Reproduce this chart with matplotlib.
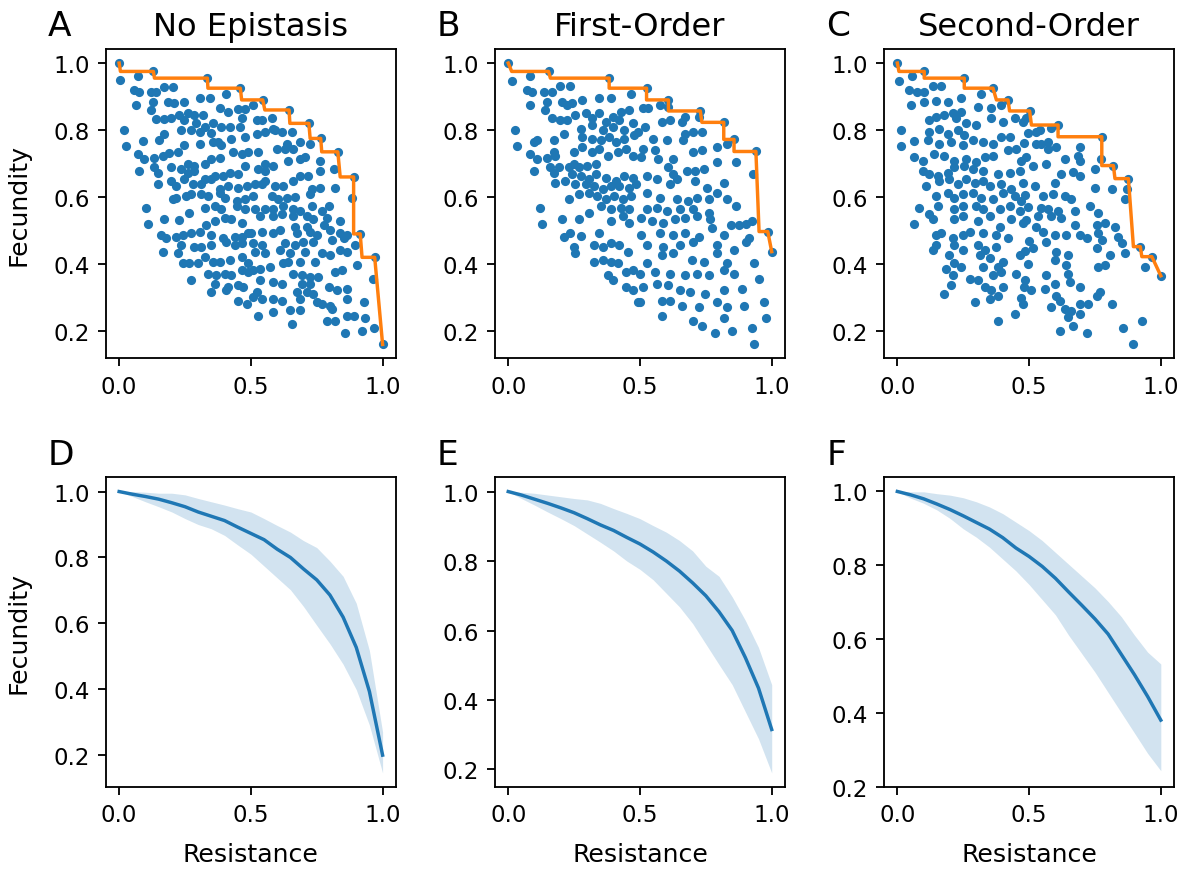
import numpy as np
import matplotlib
matplotlib.use("Agg")
import matplotlib.pyplot as plt

# (resistance, fecundity) of each genotype
pts_none = np.array([
    (0.0, 1.0), (0.005, 0.95), (0.07, 0.96), (0.13, 0.975), (0.17, 0.93), (0.204, 0.93), (0.055, 0.92),
    (0.077, 0.913), (0.12, 0.915), (0.14, 0.915), (0.335, 0.955), (0.407, 0.907), (0.306, 0.897),
    (0.344, 0.897), (0.064, 0.875), (0.127, 0.885), (0.185, 0.885), (0.21, 0.88), (0.248, 0.885),
    (0.121, 0.86), (0.382, 0.865), (0.414, 0.855), (0.452, 0.863), (0.477, 0.863), (0.14, 0.833),
    (0.172, 0.833), (0.197, 0.835), (0.229, 0.845), (0.261, 0.85), (0.286, 0.845), (0.318, 0.845),
    (0.248, 0.83), (0.293, 0.82), (0.325, 0.81), (0.356, 0.82), (0.388, 0.81), (0.42, 0.81), (0.465, 0.835),
    (0.458, 0.81), (0.02, 0.8), (0.236, 0.8), (0.274, 0.8), (0.306, 0.794), (0.35, 0.79), (0.376, 0.764),
    (0.426, 0.774), (0.477, 0.78), (0.026, 0.751), (0.089, 0.766), (0.153, 0.769), (0.172, 0.789),
    (0.248, 0.754), (0.306, 0.759), (0.356, 0.764), (0.388, 0.754), (0.07, 0.729), (0.096, 0.714),
    (0.134, 0.716), (0.166, 0.722), (0.191, 0.732), (0.223, 0.734), (0.261, 0.699), (0.286, 0.694),
    (0.325, 0.699), (0.35, 0.714), (0.382, 0.716), (0.433, 0.734), (0.465, 0.729), (0.49, 0.734),
    (0.077, 0.678), (0.134, 0.689), (0.147, 0.673), (0.197, 0.689), (0.236, 0.684), (0.261, 0.673),
    (0.286, 0.678), (0.325, 0.653), (0.363, 0.663), (0.395, 0.663), (0.42, 0.673), (0.452, 0.668),
    (0.477, 0.694), (0.147, 0.638), (0.197, 0.648), (0.216, 0.633), (0.248, 0.653), (0.28, 0.638),
    (0.312, 0.638), (0.35, 0.653), (0.382, 0.623), (0.414, 0.633), (0.452, 0.628), (0.484, 0.633),
    (0.204, 0.593), (0.216, 0.598), (0.255, 0.603), (0.274, 0.608), (0.312, 0.608), (0.337, 0.603),
    (0.382, 0.613), (0.401, 0.598), (0.446, 0.588), (0.477, 0.593), (0.102, 0.568), (0.325, 0.568),
    (0.363, 0.573), (0.388, 0.563), (0.446, 0.573), (0.477, 0.563), (0.108, 0.519), (0.172, 0.533),
    (0.229, 0.531), (0.267, 0.553), (0.331, 0.517), (0.363, 0.527), (0.401, 0.537), (0.426, 0.533),
    (0.465, 0.522), (0.159, 0.487), (0.178, 0.477), (0.216, 0.482), (0.242, 0.487), (0.274, 0.492),
    (0.306, 0.497), (0.35, 0.487), (0.395, 0.477), (0.439, 0.482), (0.465, 0.482), (0.49, 0.492),
    (0.166, 0.437), (0.223, 0.432), (0.236, 0.457), (0.286, 0.452), (0.312, 0.452), (0.35, 0.457),
    (0.407, 0.467), (0.439, 0.457), (0.465, 0.462), (0.242, 0.404), (0.267, 0.404), (0.299, 0.402),
    (0.325, 0.422), (0.356, 0.407), (0.382, 0.407), (0.42, 0.412), (0.465, 0.422), (0.49, 0.402),
    (0.337, 0.371), (0.369, 0.366), (0.401, 0.371), (0.426, 0.366), (0.465, 0.381), (0.49, 0.376),
    (0.274, 0.351), (0.363, 0.341), (0.414, 0.331), (0.452, 0.336), (0.471, 0.331), (0.35, 0.316),
    (0.407, 0.321), (0.452, 0.289), (0.484, 0.281),
    (0.46, 0.925), (0.545, 0.89), (0.645, 0.86), (0.72, 0.82), (0.765, 0.775), (0.83, 0.735), (0.89, 0.66),
    (0.915, 0.49), (0.97, 0.42), (1.0, 0.16), (0.509, 0.875), (0.522, 0.83), (0.541, 0.83), (0.579, 0.835),
    (0.585, 0.804), (0.522, 0.789), (0.553, 0.794), (0.591, 0.799), (0.617, 0.794), (0.655, 0.794),
    (0.636, 0.759), (0.687, 0.764), (0.725, 0.759), (0.598, 0.744), (0.63, 0.744), (0.661, 0.744),
    (0.706, 0.719), (0.528, 0.734), (0.642, 0.709), (0.687, 0.714), (0.763, 0.709), (0.553, 0.699),
    (0.585, 0.694), (0.528, 0.684), (0.553, 0.678), (0.763, 0.678), (0.814, 0.684), (0.718, 0.663),
    (0.687, 0.663), (0.515, 0.638), (0.541, 0.638), (0.553, 0.648), (0.591, 0.633), (0.623, 0.633),
    (0.661, 0.648), (0.731, 0.623), (0.763, 0.628), (0.82, 0.628), (0.509, 0.603), (0.579, 0.603),
    (0.604, 0.593), (0.636, 0.598), (0.668, 0.6), (0.725, 0.608), (0.885, 0.596), (0.515, 0.563),
    (0.553, 0.563), (0.585, 0.563), (0.623, 0.573), (0.661, 0.563), (0.687, 0.558), (0.731, 0.573),
    (0.795, 0.573), (0.769, 0.558), (0.534, 0.543), (0.585, 0.543), (0.617, 0.548), (0.661, 0.543),
    (0.712, 0.543), (0.737, 0.533), (0.788, 0.538), (0.668, 0.512), (0.712, 0.512), (0.776, 0.517),
    (0.839, 0.527), (0.502, 0.492), (0.541, 0.497), (0.585, 0.492), (0.61, 0.502), (0.674, 0.492),
    (0.725, 0.497), (0.75, 0.487), (0.801, 0.502), (0.839, 0.492), (0.865, 0.487), (0.509, 0.462),
    (0.541, 0.457), (0.63, 0.462), (0.668, 0.457), (0.699, 0.467), (0.737, 0.467), (0.807, 0.472),
    (0.852, 0.477), (0.896, 0.457), (0.515, 0.437), (0.553, 0.432), (0.61, 0.442), (0.648, 0.432),
    (0.706, 0.437), (0.769, 0.432), (0.801, 0.427), (0.839, 0.442), (0.865, 0.437), (0.623, 0.402),
    (0.642, 0.407), (0.687, 0.407), (0.744, 0.407), (0.903, 0.397), (0.509, 0.381), (0.534, 0.385),
    (0.572, 0.391), (0.661, 0.371), (0.693, 0.366), (0.725, 0.361), (0.756, 0.361), (0.82, 0.376),
    (0.845, 0.381), (0.962, 0.356), (0.534, 0.351), (0.585, 0.346), (0.617, 0.341), (0.693, 0.341),
    (0.725, 0.341), (0.795, 0.331), (0.522, 0.316), (0.674, 0.316), (0.712, 0.316), (0.737, 0.311),
    (0.826, 0.321), (0.865, 0.326), (0.509, 0.301), (0.541, 0.296), (0.585, 0.296), (0.617, 0.291),
    (0.687, 0.296), (0.75, 0.286), (0.801, 0.276), (0.865, 0.296), (0.928, 0.286), (0.528, 0.246),
    (0.585, 0.256), (0.648, 0.263), (0.687, 0.263), (0.769, 0.281), (0.807, 0.266), (0.865, 0.246),
    (0.89, 0.246), (0.934, 0.24), (0.655, 0.22), (0.788, 0.23), (0.82, 0.23), (0.858, 0.195),
    (0.922, 0.2), (0.968, 0.21),
])

pts_first = np.array([
    (0.0, 1.0), (0.013, 0.947), (0.083, 0.96), (0.153, 0.975), (0.07, 0.92), (0.089, 0.913), (0.134, 0.913),
    (0.166, 0.913), (0.198, 0.932), (0.236, 0.932), (0.083, 0.875), (0.147, 0.885), (0.14, 0.86),
    (0.204, 0.885), (0.224, 0.875), (0.243, 0.88), (0.281, 0.89), (0.345, 0.897), (0.39, 0.895),
    (0.383, 0.955), (0.466, 0.907), (0.166, 0.835), (0.198, 0.83), (0.224, 0.83), (0.255, 0.845),
    (0.294, 0.85), (0.319, 0.835), (0.345, 0.85), (0.37, 0.825), (0.396, 0.84), (0.428, 0.855),
    (0.46, 0.86), (0.421, 0.83), (0.275, 0.804), (0.319, 0.814), (0.358, 0.8), (0.396, 0.81), (0.44, 0.8),
    (0.473, 0.82), (0.026, 0.8), (0.032, 0.751), (0.096, 0.764), (0.109, 0.769), (0.172, 0.769),
    (0.211, 0.789), (0.281, 0.779), (0.319, 0.774), (0.351, 0.769), (0.383, 0.779), (0.409, 0.764),
    (0.44, 0.774), (0.479, 0.784), (0.083, 0.729), (0.109, 0.714), (0.147, 0.716), (0.172, 0.734),
    (0.179, 0.724), (0.249, 0.734), (0.281, 0.749), (0.319, 0.734), (0.345, 0.744), (0.377, 0.724),
    (0.415, 0.734), (0.447, 0.744), (0.473, 0.724), (0.096, 0.678), (0.16, 0.689), (0.172, 0.673),
    (0.192, 0.689), (0.23, 0.689), (0.249, 0.699), (0.268, 0.689), (0.3, 0.694), (0.332, 0.699),
    (0.243, 0.668), (0.275, 0.663), (0.307, 0.653), (0.332, 0.668), (0.37, 0.658), (0.409, 0.648),
    (0.44, 0.663), (0.473, 0.658), (0.179, 0.643), (0.217, 0.648), (0.255, 0.638), (0.294, 0.638),
    (0.326, 0.633), (0.358, 0.623), (0.39, 0.633), (0.421, 0.633), (0.46, 0.628), (0.485, 0.638),
    (0.23, 0.593), (0.268, 0.608), (0.307, 0.613), (0.338, 0.603), (0.37, 0.593), (0.402, 0.603),
    (0.434, 0.593), (0.466, 0.603), (0.351, 0.573), (0.39, 0.563), (0.428, 0.568), (0.46, 0.563),
    (0.121, 0.568), (0.128, 0.519), (0.204, 0.533), (0.268, 0.533), (0.307, 0.553), (0.39, 0.527),
    (0.434, 0.543), (0.46, 0.522), (0.211, 0.48), (0.236, 0.492), (0.275, 0.484), (0.345, 0.492),
    (0.249, 0.452), (0.326, 0.457), (0.358, 0.452), (0.39, 0.462), (0.421, 0.457), (0.453, 0.437),
    (0.255, 0.432), (0.326, 0.407), (0.358, 0.412), (0.39, 0.407), (0.415, 0.402), (0.447, 0.376),
    (0.473, 0.381), (0.377, 0.366), (0.396, 0.351), (0.447, 0.331), (0.473, 0.321), (0.492, 0.286),
    (0.525, 0.925), (0.608, 0.89), (0.729, 0.857), (0.818, 0.823), (0.857, 0.772), (0.94, 0.736),
    (0.985, 0.497), (1.0, 0.437), (0.512, 0.865), (0.531, 0.865), (0.576, 0.875), (0.605, 0.87),
    (0.582, 0.824), (0.614, 0.83), (0.659, 0.824), (0.671, 0.84), (0.723, 0.84), (0.518, 0.81),
    (0.493, 0.794), (0.55, 0.774), (0.601, 0.769), (0.671, 0.789), (0.703, 0.794), (0.735, 0.794),
    (0.665, 0.769), (0.793, 0.749), (0.831, 0.759), (0.512, 0.744), (0.556, 0.739), (0.703, 0.734),
    (0.735, 0.739), (0.793, 0.704), (0.863, 0.704), (0.505, 0.719), (0.569, 0.714), (0.627, 0.714),
    (0.608, 0.689), (0.627, 0.668), (0.678, 0.678), (0.71, 0.678), (0.742, 0.684), (0.93, 0.668),
    (0.525, 0.663), (0.563, 0.653), (0.614, 0.638), (0.64, 0.653), (0.71, 0.648), (0.754, 0.628),
    (0.818, 0.643), (0.525, 0.613), (0.576, 0.598), (0.64, 0.593), (0.684, 0.588), (0.716, 0.598),
    (0.761, 0.593), (0.793, 0.613), (0.831, 0.593), (0.525, 0.563), (0.563, 0.568), (0.601, 0.558),
    (0.652, 0.563), (0.703, 0.563), (0.761, 0.553), (0.863, 0.573), (0.505, 0.538), (0.544, 0.527),
    (0.588, 0.522), (0.633, 0.533), (0.671, 0.538), (0.716, 0.543), (0.767, 0.533), (0.844, 0.517),
    (0.876, 0.517), (0.901, 0.52), (0.927, 0.527), (0.505, 0.487), (0.576, 0.492), (0.627, 0.487),
    (0.671, 0.492), (0.723, 0.482), (0.774, 0.507), (0.818, 0.487), (0.914, 0.477), (0.525, 0.457),
    (0.588, 0.452), (0.652, 0.457), (0.703, 0.467), (0.793, 0.457), (0.857, 0.442), (0.901, 0.467),
    (0.582, 0.427), (0.627, 0.432), (0.697, 0.412), (0.742, 0.407), (0.793, 0.432), (0.831, 0.402),
    (0.933, 0.402), (0.525, 0.402), (0.499, 0.371), (0.556, 0.376), (0.614, 0.371), (0.671, 0.366),
    (0.716, 0.371), (0.761, 0.366), (0.818, 0.381), (0.857, 0.371), (0.952, 0.356), (0.512, 0.331),
    (0.563, 0.341), (0.608, 0.336), (0.652, 0.321), (0.691, 0.316), (0.748, 0.311), (0.818, 0.321),
    (0.889, 0.326), (0.499, 0.286), (0.582, 0.291), (0.614, 0.291), (0.659, 0.276), (0.723, 0.271),
    (0.793, 0.286), (0.831, 0.271), (0.895, 0.276), (0.972, 0.286), (0.582, 0.245), (0.703, 0.23),
    (0.735, 0.215), (0.818, 0.24), (0.978, 0.24), (0.786, 0.195), (0.85, 0.2), (0.927, 0.21),
    (0.933, 0.16),
])

pts_second = np.array([
    (0.0, 1.0), (0.006, 0.947), (0.057, 0.96), (0.102, 0.975), (0.134, 0.932), (0.165, 0.932), (0.045, 0.92),
    (0.076, 0.913), (0.102, 0.915), (0.242, 0.897), (0.254, 0.955), (0.318, 0.907), (0.051, 0.875),
    (0.102, 0.885), (0.146, 0.887), (0.191, 0.885), (0.306, 0.87), (0.356, 0.865), (0.395, 0.875),
    (0.121, 0.83), (0.146, 0.84), (0.178, 0.845), (0.21, 0.85), (0.242, 0.855), (0.223, 0.835),
    (0.261, 0.82), (0.299, 0.815), (0.356, 0.835), (0.401, 0.825), (0.445, 0.835), (0.477, 0.825),
    (0.121, 0.794), (0.159, 0.804), (0.191, 0.789), (0.229, 0.8), (0.254, 0.784), (0.013, 0.8),
    (0.013, 0.751), (0.064, 0.766), (0.115, 0.769), (0.159, 0.759), (0.204, 0.764), (0.248, 0.754),
    (0.286, 0.769), (0.325, 0.764), (0.363, 0.759), (0.395, 0.779), (0.426, 0.779), (0.452, 0.744),
    (0.064, 0.719), (0.096, 0.709), (0.14, 0.729), (0.178, 0.724), (0.216, 0.709), (0.261, 0.714),
    (0.299, 0.704), (0.331, 0.719), (0.363, 0.724), (0.42, 0.739), (0.471, 0.709), (0.096, 0.678),
    (0.121, 0.668), (0.153, 0.663), (0.191, 0.673), (0.216, 0.689), (0.254, 0.694), (0.286, 0.684),
    (0.325, 0.678), (0.382, 0.668), (0.426, 0.673), (0.465, 0.678), (0.108, 0.633), (0.159, 0.648),
    (0.197, 0.653), (0.229, 0.638), (0.261, 0.653), (0.293, 0.643), (0.325, 0.648), (0.35, 0.633),
    (0.395, 0.638), (0.433, 0.623), (0.477, 0.643), (0.146, 0.603), (0.191, 0.613), (0.216, 0.598),
    (0.248, 0.608), (0.286, 0.613), (0.318, 0.598), (0.363, 0.593), (0.401, 0.613), (0.445, 0.603),
    (0.471, 0.588), (0.083, 0.568), (0.121, 0.548), (0.153, 0.573), (0.216, 0.563), (0.248, 0.573),
    (0.299, 0.573), (0.325, 0.563), (0.388, 0.563), (0.426, 0.573), (0.465, 0.558), (0.064, 0.519),
    (0.134, 0.533), (0.216, 0.533), (0.248, 0.543), (0.306, 0.527), (0.35, 0.543), (0.388, 0.512),
    (0.433, 0.533), (0.477, 0.522), (0.146, 0.487), (0.166, 0.492), (0.21, 0.477), (0.248, 0.487),
    (0.274, 0.497), (0.325, 0.492), (0.376, 0.487), (0.42, 0.477), (0.134, 0.442), (0.146, 0.457),
    (0.216, 0.457), (0.248, 0.442), (0.306, 0.457), (0.331, 0.442), (0.376, 0.452), (0.465, 0.427),
    (0.197, 0.427), (0.312, 0.427), (0.35, 0.417), (0.401, 0.407), (0.216, 0.402), (0.242, 0.391),
    (0.325, 0.391), (0.382, 0.391), (0.185, 0.386), (0.21, 0.366), (0.274, 0.356), (0.306, 0.351),
    (0.363, 0.366), (0.395, 0.376), (0.452, 0.371), (0.484, 0.351), (0.204, 0.336), (0.331, 0.331),
    (0.356, 0.321), (0.401, 0.331), (0.178, 0.311), (0.293, 0.286), (0.35, 0.296), (0.382, 0.306),
    (0.477, 0.281), (0.445, 0.25), (0.382, 0.23), (0.363, 0.925), (0.42, 0.89), (0.502, 0.857),
    (0.49, 0.835), (0.495, 0.79), (0.48, 0.76), (0.49, 0.72), (0.485, 0.605), (0.495, 0.57), (0.49, 0.53),
    (0.5, 0.47), (0.485, 0.44), (0.495, 0.4), (0.48, 0.33), (0.47, 0.3),
    (0.61, 0.815), (0.776, 0.78), (0.82, 0.694), (0.877, 0.655), (0.922, 0.452), (0.966, 0.422),
    (1.0, 0.365), (0.528, 0.794), (0.541, 0.8), (0.585, 0.806), (0.528, 0.759), (0.547, 0.759),
    (0.572, 0.764), (0.572, 0.744), (0.604, 0.749), (0.693, 0.749), (0.636, 0.714), (0.687, 0.724),
    (0.693, 0.709), (0.515, 0.694), (0.566, 0.699), (0.668, 0.674), (0.693, 0.663), (0.75, 0.684),
    (0.774, 0.714), (0.522, 0.633), (0.598, 0.643), (0.623, 0.668), (0.75, 0.628), (0.814, 0.623),
    (0.87, 0.623), (0.864, 0.593), (0.553, 0.603), (0.591, 0.608), (0.636, 0.603), (0.661, 0.593),
    (0.547, 0.568), (0.572, 0.563), (0.61, 0.558), (0.674, 0.558), (0.731, 0.573), (0.763, 0.553),
    (0.534, 0.543), (0.585, 0.543), (0.623, 0.538), (0.674, 0.517), (0.756, 0.517), (0.788, 0.522),
    (0.826, 0.512), (0.528, 0.512), (0.553, 0.497), (0.598, 0.487), (0.642, 0.487), (0.693, 0.487),
    (0.718, 0.477), (0.763, 0.492), (0.776, 0.472), (0.839, 0.482), (0.852, 0.462), (0.515, 0.447),
    (0.566, 0.467), (0.604, 0.437), (0.648, 0.427), (0.756, 0.447), (0.807, 0.427), (0.865, 0.432),
    (0.941, 0.392), (0.598, 0.412), (0.642, 0.397), (0.566, 0.366), (0.598, 0.341), (0.648, 0.371),
    (0.655, 0.346), (0.693, 0.331), (0.763, 0.392), (0.788, 0.397), (0.769, 0.316), (0.756, 0.306),
    (0.509, 0.321), (0.56, 0.326), (0.604, 0.306), (0.617, 0.291), (0.585, 0.271), (0.636, 0.266),
    (0.661, 0.261), (0.693, 0.281), (0.725, 0.281), (0.693, 0.251), (0.648, 0.241), (0.668, 0.215),
    (0.718, 0.195), (0.617, 0.2), (0.814, 0.281), (0.858, 0.21), (0.928, 0.23), (0.896, 0.16),
])

# bottom row: mean front with spread band
resistance = np.linspace(0, 1, 21)
mean_none = [1.0, 0.992, 0.985, 0.977, 0.966, 0.954, 0.938, 0.925, 0.912, 0.892, 0.873,
             0.854, 0.825, 0.8, 0.765, 0.732, 0.686, 0.619, 0.527, 0.393, 0.2]
lo_none = [1.0, 0.985, 0.969, 0.954, 0.938, 0.918, 0.9, 0.887, 0.867, 0.838, 0.81,
           0.774, 0.738, 0.702, 0.651, 0.594, 0.538, 0.476, 0.399, 0.291, 0.146]
hi_none = [1.0, 1.0, 0.998, 0.995, 0.995, 0.99, 0.979, 0.969, 0.959, 0.948, 0.938,
           0.918, 0.897, 0.877, 0.851, 0.83, 0.789, 0.743, 0.661, 0.517, 0.27]

mean_first = [1.0, 0.99, 0.978, 0.966, 0.953, 0.939, 0.922, 0.904, 0.888, 0.868, 0.849,
              0.826, 0.8, 0.771, 0.737, 0.7, 0.654, 0.6, 0.522, 0.434, 0.315]
lo_first = [1.0, 0.98, 0.961, 0.941, 0.922, 0.902, 0.878, 0.854, 0.829, 0.8, 0.776,
            0.746, 0.707, 0.668, 0.62, 0.561, 0.502, 0.444, 0.366, 0.288, 0.19]
hi_first = [1.0, 0.998, 0.995, 0.99, 0.985, 0.98, 0.976, 0.966, 0.951, 0.937, 0.922,
            0.902, 0.883, 0.859, 0.829, 0.785, 0.756, 0.697, 0.629, 0.551, 0.444]

mean_second = [1.0, 0.991, 0.98, 0.966, 0.951, 0.934, 0.916, 0.898, 0.875, 0.847, 0.824,
               0.797, 0.765, 0.728, 0.692, 0.655, 0.614, 0.559, 0.504, 0.445, 0.381]
lo_second = [1.0, 0.982, 0.968, 0.95, 0.927, 0.899, 0.876, 0.849, 0.817, 0.785, 0.748,
             0.707, 0.666, 0.611, 0.561, 0.511, 0.456, 0.401, 0.346, 0.291, 0.244]
hi_second = [1.0, 0.999, 0.999, 0.994, 0.99, 0.983, 0.972, 0.958, 0.94, 0.917, 0.894,
             0.867, 0.835, 0.803, 0.771, 0.739, 0.702, 0.661, 0.611, 0.565, 0.533]

titles = ["No Epistasis", "First-Order", "Second-Order"]
letters = [["A", "B", "C"], ["D", "E", "F"]]
scatter_sets = [pts_none, pts_first, pts_second]
band_sets = [(mean_none, lo_none, hi_none),
             (mean_first, lo_first, hi_first),
             (mean_second, lo_second, hi_second)]


def pareto_front(pts):
    # best fecundity reachable at or above each resistance
    order = np.argsort(pts[:, 0], kind="stable")
    xs = pts[order, 0]
    ys = pts[order, 1]
    fy = np.maximum.accumulate(ys[::-1])[::-1]
    return xs, fy


dpi = 165
fig, axes = plt.subplots(2, 3, figsize=(1180 / dpi, 871 / dpi), dpi=dpi)
fig.subplots_adjust(left=0.0898, right=0.9949, top=0.9426, bottom=0.0953,
                    wspace=0.3426, hspace=0.3845)

for j in range(3):
    ax = axes[0, j]
    pts = scatter_sets[j]
    ax.plot(pts[:, 0], pts[:, 1], '.', color='C0')
    fx, fy = pareto_front(pts)
    ax.plot(fx, fy, color='C1')
    ax.set_title(titles[j], fontsize=14)
    ax.set_yticks([0.2, 0.4, 0.6, 0.8, 1.0])

    ax = axes[1, j]
    m, lo, hi = band_sets[j]
    ax.fill_between(resistance, lo, hi, color='C0', alpha=0.2, lw=0)
    ax.plot(resistance, m, color='C0')
    ax.set_xlabel("Resistance", fontsize=11, labelpad=7)
    ax.set_yticks([0.2, 0.4, 0.6, 0.8, 1.0])

for i in range(2):
    axes[i, 0].set_ylabel("Fecundity", fontsize=11, labelpad=10)
    for j in range(3):
        ax = axes[i, j]
        ax.set_xticks([0.0, 0.5, 1.0])
        ax.tick_params(labelsize=10)
        ax.text(-0.2, 1.045, letters[i][j], transform=ax.transAxes,
                fontsize=15, va='baseline', ha='left')

fig.savefig("out.png", dpi=dpi)
